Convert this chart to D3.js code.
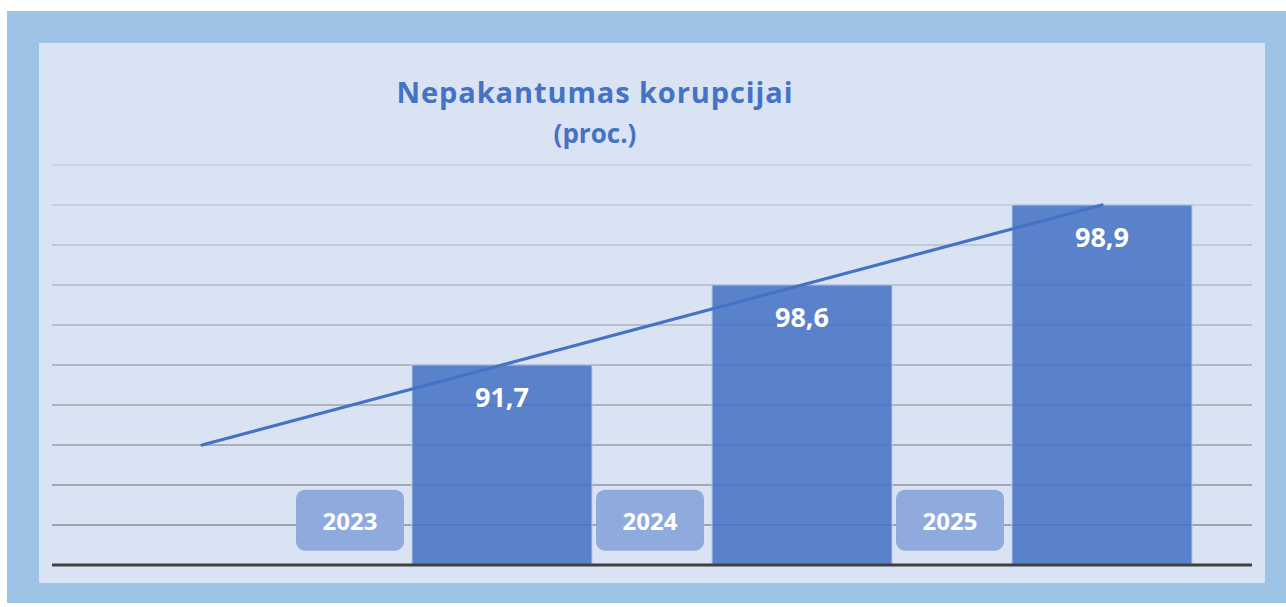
<!DOCTYPE html>
<html>
<head>
<meta charset="utf-8">
<script src="https://cdn.jsdelivr.net/npm/d3@7"></script>
<style>
  html, body { margin: 0; padding: 0; background: #fff; }
  svg { display: block; font-family: "Open Sans", Lato, sans-serif; }
</style>
</head>
<body>
<div id="chart"></div>
<script>
// ------------------------------------------------------------------ DATA
const categories = ['2023', '2024', '2025'];
const values     = [91.7, 98.6, 98.9];        // printed labels (proc.)
const barLevels  = [5, 7, 9];                 // bar heights as drawn, in grid steps
const trendKeys  = ['', '2023', '2024', '2025'];
const trendLevels = [3, 5, 7, 9];             // decorative trend line, grid steps
const gridTicks  = d3.range(0, 11);           // 0..10 grid steps

const title    = 'Nepakantumas korupcijai';
const subtitle = '(proc.)';

const W = 1286, H = 607;

const svg = d3.select('#chart').append('svg')
  .attr('width', W)
  .attr('height', H);

// ------------------------------------------------------------------ FRAME
svg.append('rect')
  .attr('x', 7).attr('y', 11)
  .attr('width', W - 7).attr('height', 592)
  .attr('fill', '#9DC3E6');

svg.append('rect')
  .attr('x', 39).attr('y', 43)
  .attr('width', 1226).attr('height', 540)
  .attr('fill', '#DAE3F3');

// ------------------------------------------------------------------ SCALES
const x = d3.scaleBand()
  .domain(trendKeys)
  .range([52, 1252])
  .paddingInner(0.4)
  .paddingOuter(0.2);
// band step 300, bar width 180

const y = d3.scaleLinear()
  .domain([0, 10])
  .range([565, 165]);

const gridColour = d3.scaleLinear()
  .domain([10, 1])
  .range(['#C8CFDC', '#8A8D94'])
  .interpolate(d3.interpolateRgb);

// ------------------------------------------------------------------ GRID
svg.append('g')
  .selectAll('line')
  .data(gridTicks.filter(d => d > 0))
  .join('line')
  .attr('x1', 52).attr('x2', 1252)
  .attr('y1', d => y(d)).attr('y2', d => y(d))
  .attr('stroke', d => gridColour(d))
  .attr('stroke-width', 1.5);

// ------------------------------------------------------------------ BARS
svg.append('g')
  .selectAll('rect')
  .data(categories)
  .join('rect')
  .attr('x', d => x(d))
  .attr('y', (d, i) => y(barLevels[i]))
  .attr('width', x.bandwidth())
  .attr('height', (d, i) => y(0) - y(barLevels[i]))
  .attr('fill', '#4472C4')
  .attr('fill-opacity', 0.86)
  .attr('stroke', '#B4C7E7')
  .attr('stroke-width', 1);

// ------------------------------------------------------------------ BASELINE
svg.append('line')
  .attr('x1', 52).attr('x2', 1252)
  .attr('y1', y(0)).attr('y2', y(0))
  .attr('stroke', '#404040')
  .attr('stroke-width', 3);

// ------------------------------------------------------------------ TREND LINE
const trend = d3.line()
  .x((d, i) => x(trendKeys[i]) + x.bandwidth() / 2)
  .y(d => y(d));

svg.append('path')
  .datum(trendLevels)
  .attr('d', trend)
  .attr('fill', 'none')
  .attr('stroke', '#4472C4')
  .attr('stroke-width', 3.2)
  .attr('stroke-linecap', 'round');

// ------------------------------------------------------------------ VALUE LABELS
const fmt = v => d3.format('.1f')(v).replace('.', ',');

svg.append('g')
  .selectAll('text')
  .data(categories)
  .join('text')
  .attr('x', d => x(d) + x.bandwidth() / 2)
  .attr('y', (d, i) => y(barLevels[i]) + 42)
  .attr('text-anchor', 'middle')
  .attr('fill', '#fff')
  .attr('font-size', 27)
  .attr('font-weight', 700)
  .text((d, i) => fmt(values[i]));

// ------------------------------------------------------------------ YEAR BOXES
const boxW = 108, boxH = 61;
const boxes = svg.append('g')
  .selectAll('g')
  .data(categories)
  .join('g')
  .attr('transform', d => `translate(${x(d) - x.step() * x.paddingInner() / 2 - 2},${y(1.12)})`);

boxes.append('rect')
  .attr('x', -boxW / 2)
  .attr('y', -boxH / 2)
  .attr('width', boxW)
  .attr('height', boxH)
  .attr('rx', 9)
  .attr('fill', '#8FAADC');

boxes.append('text')
  .attr('text-anchor', 'middle')
  .attr('y', 10)
  .attr('fill', '#fff')
  .attr('font-size', 24)
  .attr('font-weight', 700)
  .text(d => d);

// ------------------------------------------------------------------ TITLE
svg.append('text')
  .attr('x', 595).attr('y', 103)
  .attr('text-anchor', 'middle')
  .attr('fill', '#4472C4')
  .attr('font-size', 29)
  .attr('font-weight', 700)
  .attr('letter-spacing', 0.9)
  .text(title);

svg.append('text')
  .attr('x', 595).attr('y', 143)
  .attr('text-anchor', 'middle')
  .attr('fill', '#4472C4')
  .attr('font-size', 26)
  .attr('font-weight', 700)
  .text(subtitle);
</script>
</body>
</html>
